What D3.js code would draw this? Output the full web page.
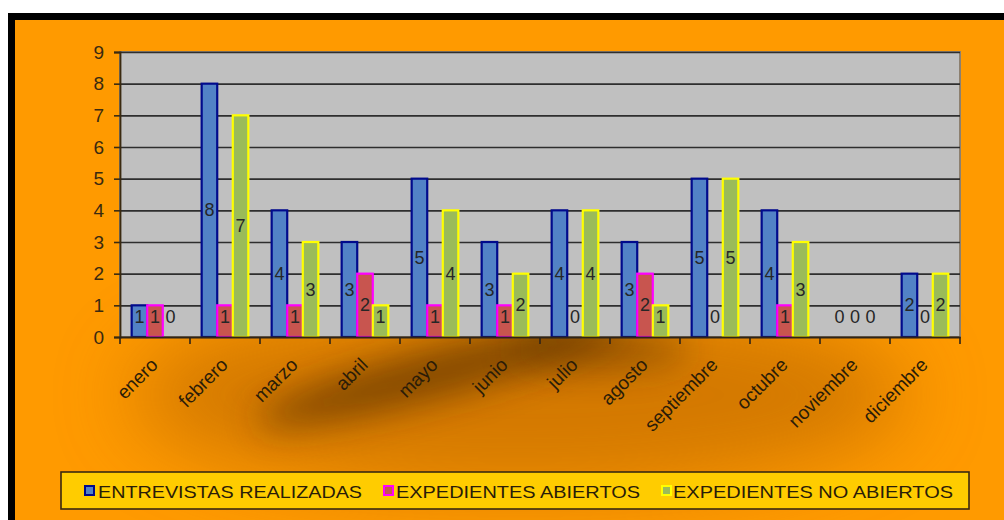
<!DOCTYPE html>
<html>
<head>
<meta charset="utf-8">
<script src="https://cdn.jsdelivr.net/npm/d3@7"></script>
<style>
  html, body { margin: 0; padding: 0; background: #ffffff; }
  svg { display: block; font-family: "Liberation Sans", Arial, sans-serif; }
</style>
</head>
<body>
<svg id="chart" width="1004" height="520"></svg>
<script>
// Monthly interview and case-file counts
const months = ["enero", "febrero", "marzo", "abril", "mayo", "junio", "julio",
                "agosto", "septiembre", "octubre", "noviembre", "diciembre"];
const entrevistasRealizadas = [1, 8, 4, 3, 5, 3, 4, 3, 5, 4, 0, 2];
const expedientesAbiertos   = [1, 1, 1, 2, 1, 1, 0, 2, 0, 1, 0, 0];
const expedientesNoAbiertos = [0, 7, 3, 1, 4, 2, 4, 1, 5, 3, 0, 2];
const seriesNames = ["ENTREVISTAS REALIZADAS", "EXPEDIENTES ABIERTOS", "EXPEDIENTES NO ABIERTOS"];
const yTicks = [0, 1, 2, 3, 4, 5, 6, 7, 8, 9];

const seriesValues = [entrevistasRealizadas, expedientesAbiertos, expedientesNoAbiertos];
const seriesStyle = [
  { fill: "#5282c6", stroke: "#000a8c" },
  { fill: "#c8554f", stroke: "#ff00ff" },
  { fill: "#9bbb59", stroke: "#ffff00" }
];

const svg = d3.select("#chart");
const W = 1004, H = 520;
const plot = { left: 120, right: 960, top: 52, bottom: 337 };

// ---- background frame and shading ----
const defs = svg.append("defs");
defs.append("filter").attr("id", "blurWide")
  .attr("x", "-50%").attr("y", "-80%").attr("width", "200%").attr("height", "260%")
  .append("feGaussianBlur").attr("stdDeviation", 40);
defs.append("filter").attr("id", "blurMid")
  .attr("x", "-50%").attr("y", "-100%").attr("width", "200%").attr("height", "300%")
  .append("feGaussianBlur").attr("stdDeviation", 18);
defs.append("clipPath").attr("id", "frameClip")
  .append("rect").attr("x", 15).attr("y", 20).attr("width", W - 15).attr("height", H - 20);

svg.append("rect").attr("x", 8).attr("y", 13).attr("width", W - 8).attr("height", H - 13).attr("fill", "#000");
svg.append("rect").attr("x", 15).attr("y", 20).attr("width", W - 15).attr("height", H - 20).attr("fill", "#ff9a00");

const shade = svg.append("g").attr("clip-path", "url(#frameClip)");
shade.append("ellipse").attr("cx", 520).attr("cy", 395).attr("rx", 390).attr("ry", 95)
  .attr("fill", "#a85800").attr("opacity", 0.5).attr("filter", "url(#blurWide)");
shade.append("ellipse").attr("cx", 440).attr("cy", 372).attr("rx", 190).attr("ry", 24)
  .attr("transform", "rotate(-15 440 372)")
  .attr("fill", "#4a2600").attr("opacity", 0.6).attr("filter", "url(#blurMid)");
shade.append("ellipse").attr("cx", 600).attr("cy", 350).attr("rx", 90).attr("ry", 18)
  .attr("fill", "#4a2600").attr("opacity", 0.45).attr("filter", "url(#blurMid)");

// ---- scales ----
const x = d3.scaleBand().domain(months).range([plot.left, plot.right]).paddingInner(0).paddingOuter(0);
const xs = d3.scaleBand().domain(d3.range(3)).range([0, x.bandwidth()]).paddingInner(0).paddingOuter(0.75);
const y = d3.scaleLinear().domain([0, 9]).range([plot.bottom, plot.top]);

// ---- plot area ----
svg.append("rect")
  .attr("x", plot.left).attr("y", plot.top)
  .attr("width", plot.right - plot.left).attr("height", plot.bottom - plot.top)
  .attr("fill", "#c0c0c0").attr("stroke", "#8c8070").attr("stroke-width", 2);

// gridlines
svg.append("g")
  .attr("transform", `translate(${plot.left},0)`)
  .call(d3.axisLeft(y).tickValues(yTicks.slice(1)).tickSize(-(plot.right - plot.left)).tickFormat(""))
  .call(g => g.select(".domain").remove())
  .call(g => g.selectAll("line").attr("stroke", "#2e2e2e").attr("stroke-width", 1.6));

// ---- bars ----
const barsG = svg.append("g");
seriesValues.forEach((vals, si) => {
  barsG.append("g").selectAll("rect")
    .data(vals.map((v, i) => ({ v, m: months[i] })).filter(d => d.v > 0))
    .join("rect")
    .attr("x", d => x(d.m) + xs(si))
    .attr("y", d => y(d.v))
    .attr("width", xs.bandwidth())
    .attr("height", d => y(0) - y(d.v))
    .attr("fill", seriesStyle[si].fill)
    .attr("stroke", seriesStyle[si].stroke)
    .attr("stroke-width", 2.2);
});

// ---- value labels ----
seriesValues.forEach((vals, si) => {
  svg.append("g").selectAll("text")
    .data(vals.map((v, i) => ({ v, m: months[i] })))
    .join("text")
    .attr("x", d => x(d.m) + xs(si) + xs.bandwidth() / 2)
    .attr("y", d => d.v > 0 ? Math.min((y(0) + y(d.v)) / 2, y(0) - 20) : y(0) - 20)
    .attr("text-anchor", "middle")
    .attr("dominant-baseline", "central")
    .attr("font-size", 18)
    .attr("fill", "#262626")
    .text(d => d.v);
});

// ---- axes ----
const yAxis = svg.append("g")
  .attr("transform", `translate(${plot.left},0)`)
  .call(d3.axisLeft(y).tickValues(yTicks).tickSize(6).tickPadding(10).tickFormat(d3.format("d")));
yAxis.selectAll("line").attr("stroke", "#3a2a10").attr("stroke-width", 1.6);
yAxis.select(".domain").attr("stroke", "#3a2a10").attr("stroke-width", 1.8);
yAxis.selectAll("text").attr("font-size", 19).attr("fill", "#3a2a10")
  .attr("font-family", "Liberation Sans, Arial, sans-serif");

const xAxis = svg.append("g")
  .attr("transform", `translate(0,${plot.bottom})`)
  .call(d3.axisBottom(x).tickSize(0).tickFormat(""));
xAxis.select(".domain").attr("stroke", "#2e2418").attr("stroke-width", 1.8);

// category boundary ticks
svg.append("g").selectAll("line")
  .data(d3.range(months.length + 1))
  .join("line")
  .attr("x1", i => plot.left + i * x.step())
  .attr("x2", i => plot.left + i * x.step())
  .attr("y1", plot.bottom).attr("y2", plot.bottom + 7)
  .attr("stroke", "#2e2418").attr("stroke-width", 1.6);

// rotated month labels
svg.append("g").selectAll("text")
  .data(months)
  .join("text")
  .attr("transform", d => `translate(${x(d) + x.bandwidth() / 2 + 4},${plot.bottom + 29}) rotate(-45)`)
  .attr("text-anchor", "end")
  .attr("font-size", 19)
  .attr("fill", "#2a1c08")
  .text(d => d);

// ---- legend ----
const legend = svg.append("g");
legend.append("rect")
  .attr("x", 61).attr("y", 472).attr("width", 908).attr("height", 37)
  .attr("fill", "#ffcc00").attr("stroke", "#3a2a10").attr("stroke-width", 1.6);
const legendItems = [
  { marker: 85, text: 98, width: 264 },
  { marker: 384, text: 396, width: 244 },
  { marker: 662, text: 673, width: 280 }
];
legendItems.forEach((it, i) => {
  legend.append("rect")
    .attr("x", it.marker).attr("y", 486).attr("width", 9).attr("height", 9)
    .attr("fill", seriesStyle[i].fill).attr("stroke", seriesStyle[i].stroke).attr("stroke-width", 2);
  legend.append("text")
    .attr("x", it.text).attr("y", 497.5)
    .attr("font-size", 17).attr("fill", "#2a1c08")
    .attr("textLength", it.width).attr("lengthAdjust", "spacingAndGlyphs")
    .text(seriesNames[i]);
});
</script>
</body>
</html>
